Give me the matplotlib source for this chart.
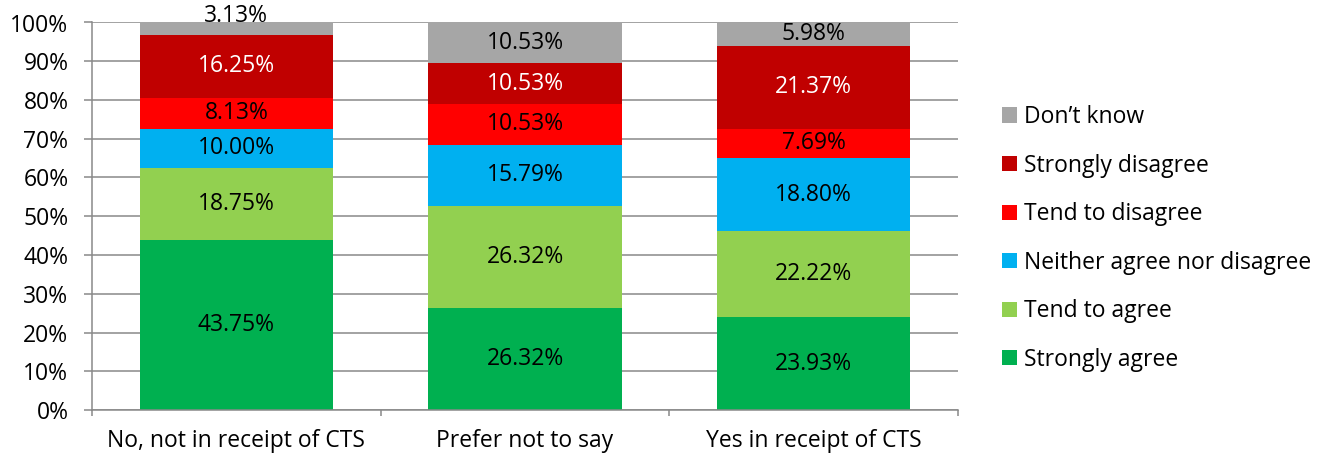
import matplotlib
matplotlib.use("Agg")
import matplotlib.pyplot as plt
import numpy as np
from matplotlib.ticker import FixedLocator, PercentFormatter
from matplotlib.patches import Patch

plt.rcParams['font.family'] = ['Open Sans', 'DejaVu Sans']

categories = ["No, not in receipt of CTS", "Prefer not to say", "Yes in receipt of CTS"]
series_names = ["Strongly agree", "Tend to agree", "Neither agree nor disagree",
                "Tend to disagree", "Strongly disagree", "Don\u2019t know"]
strongly_agree = [43.75, 26.32, 23.93]
tend_to_agree = [18.75, 26.32, 22.22]
neither = [10.00, 15.79, 18.80]
tend_to_disagree = [8.13, 10.53, 7.69]
strongly_disagree = [16.25, 10.53, 21.37]
dont_know = [3.13, 10.53, 5.98]

series = [strongly_agree, tend_to_agree, neither, tend_to_disagree, strongly_disagree, dont_know]
colors = ["#00B050", "#92D050", "#00B0F0", "#FF0000", "#C00000", "#A6A6A6"]
label_colors = ["black", "black", "black", "black", "white", "black"]

W, H = 1322, 461
fig = plt.figure(figsize=(W / 100, H / 100), dpi=100)
ax = fig.add_axes([92 / W, 1 - 410 / H, (958 - 92) / W, (410 - 22.5) / H])

x = np.arange(len(categories))
bottom = np.zeros(len(categories))
FS = 16.5
for vals, col, lc in zip(series, colors, label_colors):
    vals = np.array(vals)
    ax.bar(x, vals, 0.67, bottom=bottom, color=col, zorder=2)
    for xi, v, b in zip(x, vals, bottom):
        yc = b + v / 2
        dy = 13 if v < 4 else 0
        ax.annotate(f"{v:.2f}%", (xi, yc), xytext=(0, dy * 0.72), textcoords="offset points",
                    ha="center", va="center", color=lc, fontsize=FS, zorder=3,
                    annotation_clip=False)
    bottom = bottom + vals

gray = "#898989"
ax.set_ylim(0, 100)
ax.set_xlim(-0.5, 2.5)
ax.set_yticks(np.arange(0, 101, 10))
ax.yaxis.set_major_formatter(PercentFormatter(decimals=0))
ax.set_xticks(x)
ax.set_xticklabels(categories)
ax.xaxis.set_minor_locator(FixedLocator([-0.5, 0.5, 1.5, 2.5]))
ax.tick_params(axis="x", which="major", length=0, pad=14, labelsize=FS)
ax.tick_params(axis="x", which="minor", length=4, width=1.1, color=gray, direction="out")
ax.tick_params(axis="y", length=6, width=1.1, color=gray, pad=11, labelsize=FS)
ax.grid(axis="y", color=gray, linewidth=1.1, zorder=0)
ax.set_axisbelow(True)
for s in ["top", "right"]:
    ax.spines[s].set_visible(False)
for s in ["left", "bottom"]:
    ax.spines[s].set_color(gray)
    ax.spines[s].set_linewidth(1.1)
    ax.spines[s].set_zorder(2.5)

handles = [Patch(facecolor=c, edgecolor="none") for c in colors][::-1]
leg = fig.legend(handles, series_names[::-1], loc="upper left",
                 bbox_to_anchor=(993 / W, 1 - 96 / H), frameon=False,
                 fontsize=FS, handlelength=0.65, handleheight=0.65,
                 handletextpad=0.3, labelspacing=1.07, borderaxespad=0)

fig.savefig("out.png", dpi=100)
